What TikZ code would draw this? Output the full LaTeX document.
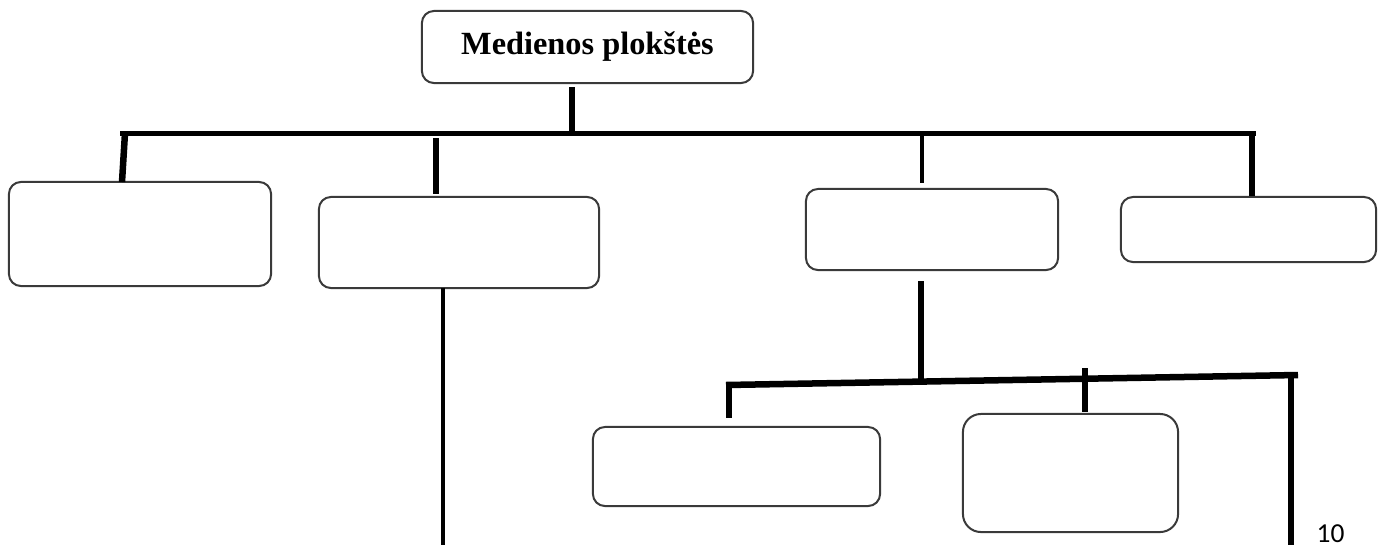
\documentclass[tikz,border=0pt]{standalone}
\usepackage{fontspec}
\setmainfont{Liberation Serif}
\newfontfamily\numfont{Carlito}
\definecolor{boxline}{HTML}{3A3A3A}
\begin{document}
\begin{tikzpicture}[x=0.01cm,y=-0.01cm,
  card/.style={draw=boxline,line width=0.02cm,rounded corners=0.12cm,
    rectangle,inner sep=0pt,outer sep=0pt,fill=white},
  bar/.style={line width=0.05cm,black},
  stem/.style={line width=0.065cm,black},
  thinstem/.style={line width=0.045cm,black}]
\useasboundingbox (0,0) rectangle (1385,545);

% boxes
\node[card,minimum width=3.31cm,minimum height=0.72cm,
  font=\fontsize{9.2pt}{11pt}\selectfont\bfseries] (top) at (587.5,47) {Medienos plokštės};
\node[card,minimum width=2.62cm,minimum height=1.04cm] (b1) at (140,234) {};
\node[card,minimum width=2.80cm,minimum height=0.91cm] (b2) at (459,242.5) {};
\node[card,minimum width=2.52cm,minimum height=0.81cm] (b3) at (932,229.5) {};
\node[card,minimum width=2.55cm,minimum height=0.65cm] (b4) at (1248.5,229.5) {};
\node[card,minimum width=2.87cm,minimum height=0.79cm] (b5) at (736.5,466.5) {};
\node[card,minimum width=2.15cm,minimum height=1.18cm,rounded corners=0.18cm] (b6) at (1070.5,473) {};

% junction points of the upper level
\coordinate (t0) at (572,87);
\coordinate (t1) at (572,133);
\coordinate (hl) at (120,133);
\coordinate (hr) at (1256,133);
\coordinate (d1a) at (125,133);
\coordinate (d1b) at (122,182);
\coordinate (d2a) at (436,138);
\coordinate (d2b) at (436,194);
\coordinate (d3a) at (922,133);
\coordinate (d3b) at (922,183);
\coordinate (d4a) at (1252,131);
\coordinate (d4b) at (1252,196);

% upper level connectors
\draw[stem] (t0) -- (t1);
\draw[bar] (hl) -- (hr);
\draw[stem] (d1a) -- (d1b);
\draw[stem] (d2a) -- (d2b);
\draw[thinstem] (d3a) -- (d3b);
\draw[stem] (d4a) -- (d4b);

% tail below the second box
\coordinate (s2a) at (443,288);
\coordinate (s2b) at (443,545);
\draw[thinstem] (s2a) -- (s2b);

% lower level below the third box
\coordinate (s3a) at (921,281);
\coordinate (s3b) at (921,382);
\coordinate (ll) at (726,385);
\coordinate (lr) at (1298,375);
\coordinate (e1a) at (729,384);
\coordinate (e1b) at (729,418);
\coordinate (e2a) at (1085,368);
\coordinate (e2b) at (1085,412);
\coordinate (e3a) at (1291,375);
\coordinate (e3b) at (1291,545);
\draw[stem] (s3a) -- (s3b);
\draw[line width=0.065cm] (ll) -- (lr);
\draw[stem] (e1a) -- (e1b);
\draw[stem] (e2a) -- (e2b);
\draw[stem] (e3a) -- (e3b);

% page number
\node[anchor=base west,inner sep=0pt,font=\numfont\fontsize{7.8pt}{9pt}\selectfont] (pg) at (1316,542) {10};
\end{tikzpicture}
\end{document}
